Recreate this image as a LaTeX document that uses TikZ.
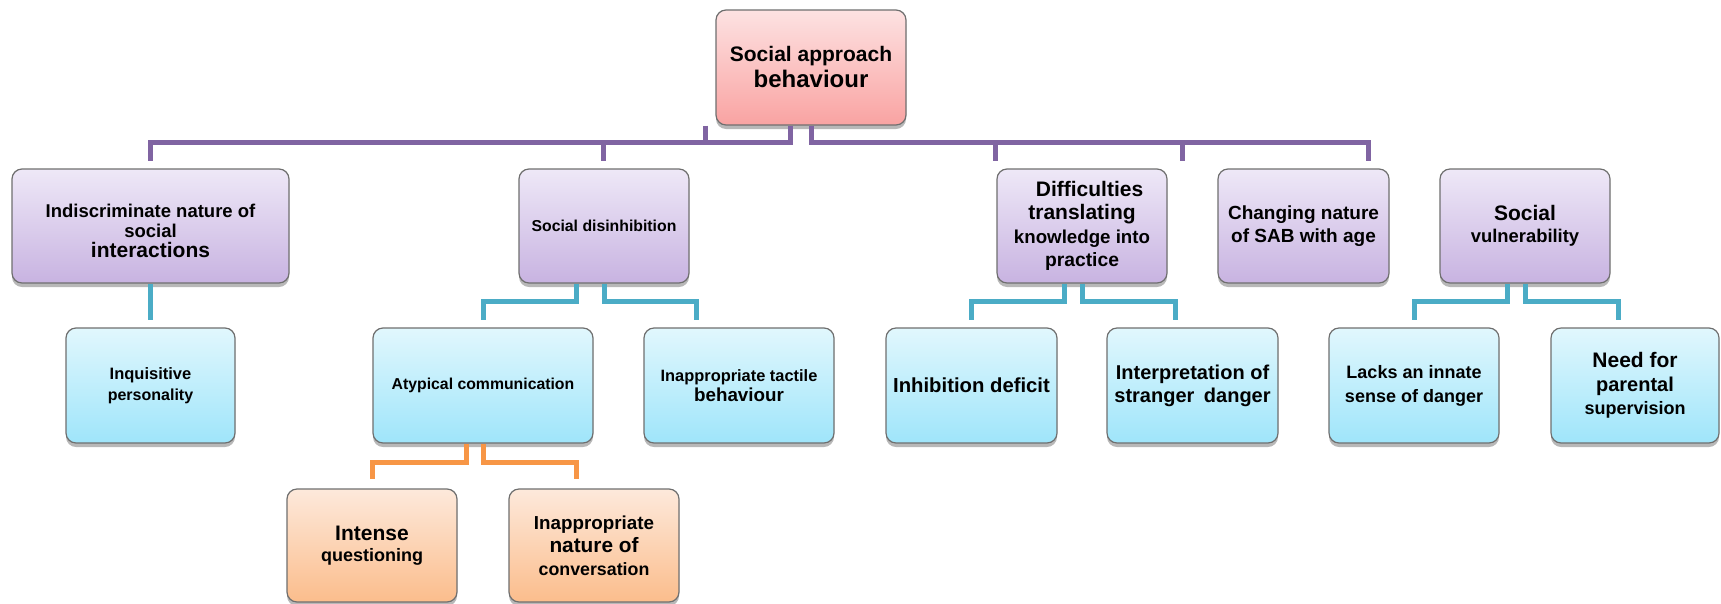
\documentclass[tikz,border=0pt]{standalone}
\usepackage{fontspec}
\setmainfont{Liberation Sans}
\usetikzlibrary{shadows,calc}
\definecolor{purpleline}{HTML}{8064A2}
\definecolor{tealline}{HTML}{4BACC6}
\definecolor{orangeline}{HTML}{F79646}
\definecolor{boxborder}{HTML}{6F6F6F}
\definecolor{pinktop}{HTML}{FDE2E2}
\definecolor{pinkbot}{HTML}{F9A3A2}
\definecolor{purptop}{HTML}{EEE8F7}
\definecolor{purpbot}{HTML}{C8B3E1}
\definecolor{cyantop}{HTML}{E1F7FD}
\definecolor{cyanbot}{HTML}{9FE5FA}
\definecolor{orangetop}{HTML}{FDE9DB}
\definecolor{orangebot}{HTML}{FBBD8C}
\newcommand{\fsz}[2]{\fontsize{#1}{#2}\selectfont}
\tikzset{
  box/.style={rounded corners=10pt, draw=boxborder, line width=1.2pt, align=center,
    inner sep=2pt,
    drop shadow={shadow xshift=0pt, shadow yshift=-4pt, opacity=.28, fill=black}},
  rootbox/.style={box, top color=pinktop, bottom color=pinkbot},
  lvlone/.style={box, top color=purptop, bottom color=purpbot, minimum width=170pt, minimum height=114pt},
  lvltwo/.style={box, top color=cyantop, bottom color=cyanbot, minimum width=170pt, minimum height=115pt},
  lvlthree/.style={box, top color=orangetop, bottom color=orangebot, minimum width=170pt, minimum height=113pt},
  pline/.style={draw=purpleline, line width=5pt},
  tline/.style={draw=tealline, line width=5pt},
  oline/.style={draw=orangeline, line width=5pt}
}
\begin{document}
\begin{tikzpicture}[x=1pt, y=-1pt]
\useasboundingbox (0,0) rectangle (1721,603);

% root
\node[rootbox, minimum width=190pt, minimum height=115pt, font=\bfseries\fsz{21}{26}] (root) at (811,67.5)
  {{\fsz{21}{26}Social approach}\\{\fsz{24}{26}behaviour}};

% level one
\node[lvlone, minimum width=277pt, font=\bfseries\fsz{18.5}{20}] (ind) at (150.5,226)
  {{\fsz{18.5}{20}\rule{0pt}{24pt}Indiscriminate nature of}\\{\fsz{18.5}{20}social}\\{\fsz{21}{20}interactions}};
\node[lvlone, font=\bfseries\fsz{15.8}{18}] (sdis) at (604,226) {Social disinhibition};
\node[lvlone, font=\bfseries\fsz{21}{23.5}] (diff) at (1082,226)
  {{\fsz{21}{23.5}\hspace*{15pt}Difficulties}\\{\fsz{21}{23.5}translating}\\{\fsz{18.7}{23.5}knowledge into}\\{\fsz{19.3}{23.5}practice}};
\node[lvlone, minimum width=171pt, font=\bfseries\fsz{19}{23}] (chg) at (1303.5,226)
  {Changing nature\\of SAB with age};
\node[lvlone, font=\bfseries\fsz{21}{22}] (svul) at (1525,226)
  {{\fsz{21}{22}Social}\\{\fsz{18.4}{22}vulnerability}};

% level two
\node[lvltwo, minimum width=169pt, font=\bfseries\fsz{16.5}{21}] (inq) at (150.5,385.5)
  {{\fsz{16.5}{21}Inquisitive}\\{\fsz{16}{21}personality}};
\node[lvltwo, minimum width=220pt, font=\bfseries\fsz{15.8}{18}] (aty) at (483,385.5) {Atypical communication};
\node[lvltwo, minimum width=190pt, font=\bfseries\fsz{16.4}{19.5}] (tac) at (739,385.5)
  {{\fsz{16.4}{19.5}Inappropriate tactile}\\{\fsz{18.8}{19.5}behaviour}};
\node[lvltwo, minimum width=171pt, font=\bfseries\fsz{20.3}{23}] (inh) at (971.5,385.5) {Inhibition deficit};
\node[lvltwo, minimum width=171pt, font=\bfseries\fsz{20}{23}] (intp) at (1192.5,385.5)
  {Interpretation of\\stranger\hspace{4pt} danger};
\node[lvltwo, font=\bfseries\fsz{18}{24}] (lack) at (1414,385.5)
  {Lacks an innate\\sense of danger};
\node[lvltwo, minimum width=168pt, font=\bfseries\fsz{20}{23.5}] (need) at (1635,385.5)
  {{\fsz{21}{23.5}Need for}\\{\fsz{20}{23.5}parental}\\{\fsz{18}{23.5}supervision}};

% level three
\node[lvlthree, font=\bfseries\fsz{20}{20.5}] (intense) at (372,545.5)
  {{\fsz{21}{20.5}Intense}\\{\fsz{18}{20.5}questioning}};
\node[lvlthree, font=\bfseries\fsz{19}{23}] (inat) at (594,545.5)
  {{\fsz{18.8}{23}Inappropriate}\\{\fsz{20.8}{23}nature of}\\{\fsz{17.8}{23}conversation}};

% purple connectors
\draw[pline] ($(root.south)+(-21,0)$) |- ($(ind.north)+(0,-26)$) -- ($(ind.north)+(0,-7)$);
\draw[pline] ($(sdis.north)+(-1,-26)$) -- ($(sdis.north)+(-1,-7)$);
\draw[pline] ($(root.south west)+(-10,0)$) -- ($(root.south west)+(-10,18)$);
\draw[pline] (root.south) |- ($(chg.north east)+(-21,-26)$) -- ($(chg.north east)+(-21,-7)$);
\draw[pline] ($(diff.north west)+(-1,-26)$) -- ($(diff.north west)+(-1,-7)$);
\draw[pline] ($(diff.north east)+(15,-26)$) -- ($(diff.north east)+(15,-7)$);

% teal connectors
\draw[tline] (ind.south) -- ($(inq.north)+(0,-7)$);
\draw[tline] ($(sdis.south)+(-28,0)$) |- ($(aty.north)+(0,-26)$) -- ($(aty.north)+(0,-7)$);
\draw[tline] (sdis.south) |- ($(tac.north)+(-43,-26)$) -- ($(tac.north)+(-43,-7)$);
\draw[tline] ($(diff.south)+(-18,0)$) |- ($(inh.north)+(0,-26)$) -- ($(inh.north)+(0,-7)$);
\draw[tline] (diff.south) |- ($(intp.north)+(-17,-26)$) -- ($(intp.north)+(-17,-7)$);
\draw[tline] ($(svul.south)+(-18,0)$) |- ($(lack.north)+(0,-26)$) -- ($(lack.north)+(0,-7)$);
\draw[tline] (svul.south) |- ($(need.north)+(-17,-26)$) -- ($(need.north)+(-17,-7)$);

% orange connectors
\draw[oline] ($(aty.south)+(-17,0)$) |- ($(intense.north)+(0,-26)$) -- ($(intense.north)+(0,-9)$);
\draw[oline] (aty.south) |- ($(inat.north)+(-18,-26)$) -- ($(inat.north)+(-18,-9)$);
\end{tikzpicture}
\end{document}
